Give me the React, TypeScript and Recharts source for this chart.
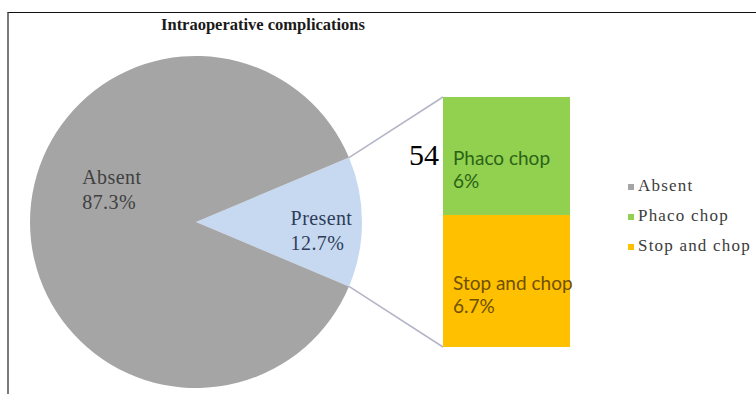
import React from 'react';
import { PieChart, Pie, Cell, Legend, BarChart, Bar, XAxis, YAxis, LabelList } from 'recharts';

// Main split: patients with / without intraoperative complications (%)
const SLICE_NAMES = ['Present', 'Absent'];
const SLICE_VALUES = [12.7, 87.3];
const SLICE_COLORS = ['#c6d9f1', '#a5a5a5'];
const SLICE_TEXT_COLORS = ['#2f3d5a', '#404040'];

// Breakdown of the "Present" slice by technique (%), bottom segment first
const SPLIT_NAMES = ['Stop and chop', 'Phaco chop'];
const SPLIT_KEYS = ['stop', 'phaco'];
const SPLIT_VALUES = [6.7, 6];
const SPLIT_COLORS = ['#ffc000', '#92d050'];
const SPLIT_TEXT_COLORS = ['#6e5000', '#2a6415'];

// Legend entries
const LEGEND_NAMES = ['Absent', 'Phaco chop', 'Stop and chop'];
const LEGEND_COLORS = ['#a5a5a5', '#92d050', '#ffc000'];

const TITLE = 'Intraoperative complications';
const PAGE_NUMBER = '54';

// Layout
const W = 756;
const H = 394;
const PIE_CX = 196;
const PIE_CY = 222;
const PIE_R = 166;
const BAR_X = 443;
const BAR_Y = 97;
const BAR_W = 127;
const BAR_H = 250;
const BAR_SPILL = 30; // room to the right of the column for labels that run past it
const CONNECTOR = '#b4b4c8';
const SERIF = '"Liberation Serif", "Times New Roman", serif';
const SANS = 'Lato, "Open Sans", sans-serif';

// label placement: radial fraction along the slice's mid angle plus a vertical nudge
const LABEL_PLACE: Record<string, { r: number; dy: number }> = {
  Present: { r: 0.57, dy: -4 },
  Absent: { r: 0.685, dy: -45 },
};

const pieData = SLICE_NAMES.map((name, i) => ({ name, value: SLICE_VALUES[i] }));
const sliceTotal = SLICE_VALUES.reduce((a, b) => a + b, 0);
const presentSpan = (SLICE_VALUES[0] / sliceTotal) * 360;
const START_ANGLE = -presentSpan / 2;

const barRow: Record<string, number | string> = { name: SLICE_NAMES[0] };
SPLIT_KEYS.forEach((k, i) => {
  barRow[k] = SPLIT_VALUES[i];
});
const barData = [barRow];
const splitTotal = SPLIT_VALUES.reduce((a, b) => a + b, 0);

const RAD = Math.PI / 180;

const renderPieLabel = (props: any) => {
  const { cx, cy, midAngle, outerRadius, name, value, index, startAngle, endAngle } = props;
  const place = LABEL_PLACE[name] || { r: 0.6, dy: 0 };
  const x = cx + place.r * outerRadius * Math.cos(-midAngle * RAD);
  const y = cy + place.r * outerRadius * Math.sin(-midAngle * RAD) + place.dy;
  const color = SLICE_TEXT_COLORS[index];
  const pct = `${String(value)}%`;
  const label = (
    <text
      x={x}
      y={y}
      fill={color}
      fontFamily={SERIF}
      fontSize={20}
      letterSpacing={0.4}
      textAnchor="start"
      dominantBaseline="central"
    >
      <tspan x={x}>{name}</tspan>
      <tspan x={x} dy={25}>{pct}</tspan>
    </text>
  );
  if (index !== 0) return <g>{label}</g>;
  // connectors from the slice's arc ends to the breakdown column corners
  const a1 = endAngle * RAD;
  const a0 = startAngle * RAD;
  const upper = { x: cx + outerRadius * Math.cos(-a1), y: cy + outerRadius * Math.sin(-a1) };
  const lower = { x: cx + outerRadius * Math.cos(-a0), y: cy + outerRadius * Math.sin(-a0) };
  return (
    <g>
      <line x1={upper.x} y1={upper.y} x2={BAR_X} y2={BAR_Y} stroke={CONNECTOR} strokeWidth={1.5} />
      <line x1={lower.x} y1={lower.y} x2={BAR_X} y2={BAR_Y + BAR_H} stroke={CONNECTOR} strokeWidth={1.5} />
      {label}
    </g>
  );
};

const renderLegend = () => (
  <div style={{ fontFamily: SERIF, fontSize: 17, color: '#3c3c3c', letterSpacing: 1.2 }}>
    {LEGEND_NAMES.map((n, i) => (
      <div key={n} style={{ height: 30, lineHeight: '30px', whiteSpace: 'nowrap' }}>
        <span
          style={{
            display: 'inline-block',
            width: 6,
            height: 6,
            background: LEGEND_COLORS[i],
            marginRight: 4,
            verticalAlign: 'middle',
          }}
        />
        {n}
      </div>
    ))}
  </div>
);

const makeBarLabel = (i: number) => (props: any) => {
  const { x, y, height, value } = props;
  const tx = x + 10;
  const ty = y + height / 2 + 1;
  return (
    <text
      x={tx}
      y={ty}
      fill={SPLIT_TEXT_COLORS[i]}
      fontFamily={SANS}
      fontSize={19}
      dominantBaseline="central"
    >
      <tspan x={tx}>{SPLIT_NAMES[i]}</tspan>
      <tspan x={tx} dy={23}>{`${value}%`}</tspan>
    </text>
  );
};

export default function App() {
  return (
    <div style={{ position: 'absolute', left: 0, top: 0, width: W, height: H, background: '#fff', overflow: 'hidden' }}>
      <div
        style={{
          position: 'absolute',
          left: 7,
          top: 12,
          width: W - 7,
          height: H - 12,
          borderTop: '1px solid #111',
          borderLeft: '2px solid #7a7a7a',
          boxSizing: 'border-box',
        }}
      />
      <div
        style={{
          position: 'absolute',
          left: 0,
          top: 15,
          width: 526,
          textAlign: 'center',
          fontFamily: SERIF,
          fontWeight: 'bold',
          fontSize: 16.5,
          lineHeight: '20px',
          color: '#1a1a1a',
        }}
      >
        {TITLE}
      </div>
      <div style={{ position: 'absolute', left: 0, top: 0 }}>
        <PieChart width={W} height={H} margin={{ top: 0, right: 0, bottom: 0, left: 0 }}>
          <Pie
            data={pieData}
            dataKey="value"
            nameKey="name"
            cx={PIE_CX}
            cy={PIE_CY}
            outerRadius={PIE_R}
            startAngle={START_ANGLE}
            endAngle={START_ANGLE + 360}
            stroke="none"
            label={renderPieLabel}
            labelLine={false}
            isAnimationActive={false}
          >
            {pieData.map((d, i) => (
              <Cell key={d.name} fill={SLICE_COLORS[i]} />
            ))}
          </Pie>
          <Legend
            content={renderLegend}
            wrapperStyle={{ position: 'absolute', left: 628, top: 171, width: 140 }}
          />
        </PieChart>
      </div>
      <div style={{ position: 'absolute', left: BAR_X, top: BAR_Y }}>
        <BarChart
          width={BAR_W + BAR_SPILL}
          height={BAR_H}
          data={barData}
          margin={{ top: 0, right: BAR_SPILL, bottom: 0, left: 0 }}
          barCategoryGap={0}
          barGap={0}
        >
          <XAxis dataKey="name" hide />
          <YAxis hide domain={[0, splitTotal]} />
          {SPLIT_KEYS.map((k, i) => (
            <Bar key={k} dataKey={k} stackId="split" fill={SPLIT_COLORS[i]} isAnimationActive={false}>
              <LabelList dataKey={k} content={makeBarLabel(i)} />
            </Bar>
          ))}
        </BarChart>
      </div>
      <div
        style={{
          position: 'absolute',
          left: 409,
          top: 140,
          fontFamily: SERIF,
          fontSize: 30,
          lineHeight: '30px',
          color: '#000',
        }}
      >
        {PAGE_NUMBER}
      </div>
    </div>
  );
}
